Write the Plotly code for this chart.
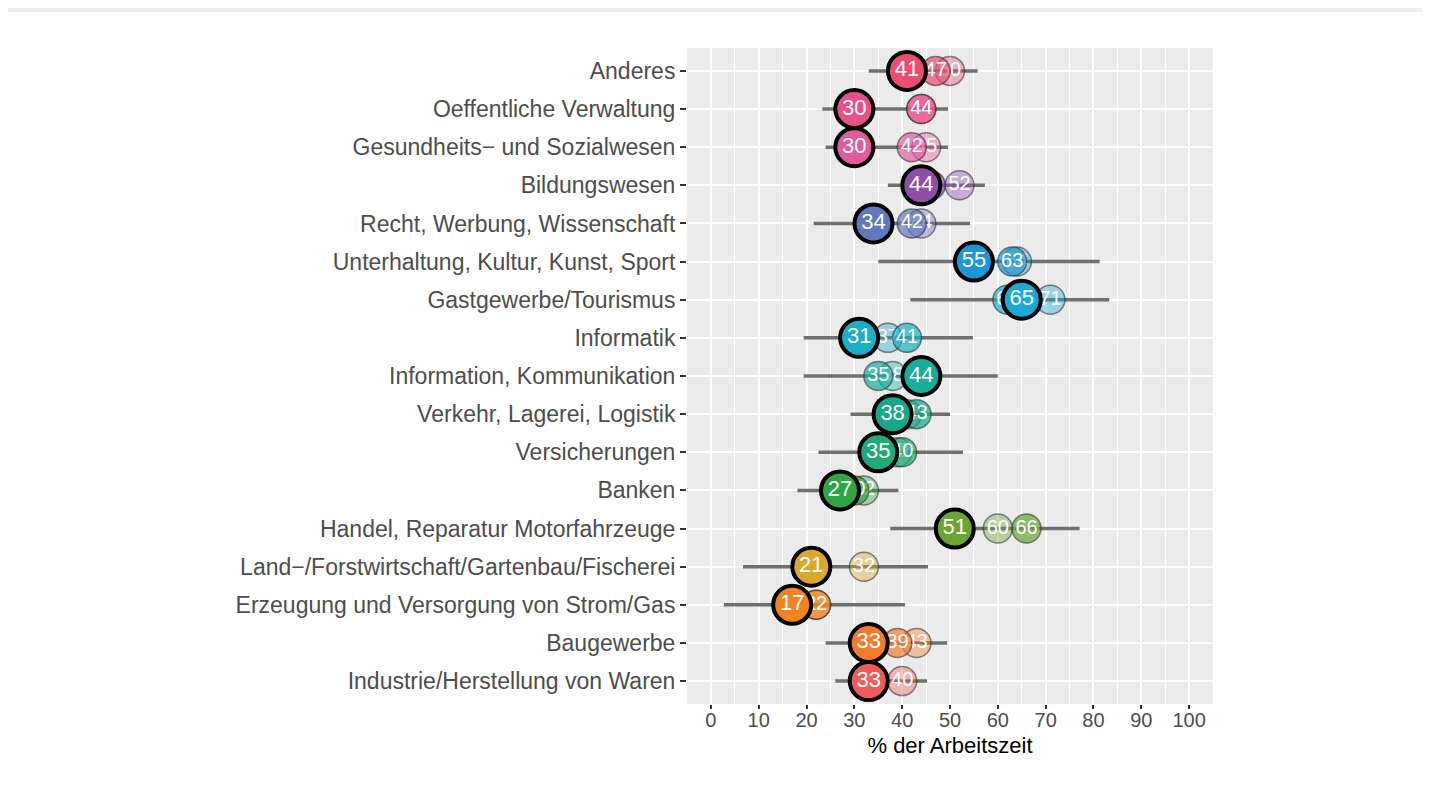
import plotly.graph_objects as go

categories = [
    "Anderes",
    "Oeffentliche Verwaltung",
    "Gesundheits− und Sozialwesen",
    "Bildungswesen",
    "Recht, Werbung, Wissenschaft",
    "Unterhaltung, Kultur, Kunst, Sport",
    "Gastgewerbe/Tourismus",
    "Informatik",
    "Information, Kommunikation",
    "Verkehr, Lagerei, Logistik",
    "Versicherungen",
    "Banken",
    "Handel, Reparatur Motorfahrzeuge",
    "Land−/Forstwirtschaft/Gartenbau/Fischerei",
    "Erzeugung und Versorgung von Strom/Gas",
    "Baugewerbe",
    "Industrie/Herstellung von Waren",
]
main_vals = [41, 30, 30, 44, 34, 55, 65, 31, 44, 38, 35, 27, 51, 21, 17, 33, 33]
med_vals = [47, 44, 42, 46, 42, 63, 62, 41, 35, 43, 40, 30, 66, 22, 22, 39, 34]
light_vals = [50, 44, 45, 52, 44, 64, 71, 37, 38, 41, 39, 32, 60, 32, 22, 43, 40]
range_lo = [33, 23.3, 24, 37, 21.5, 35, 41.7, 19.4, 19.4, 29.2, 22.5, 18.1, 37.5, 6.7, 2.7, 24, 26]
range_hi = [55.8, 49.6, 49.6, 57.3, 54.2, 81.3, 83.3, 54.8, 60, 50, 52.7, 39.2, 77.1, 45.4, 40.6, 49.4, 45.2]
colors = [
    "#EB4E72", "#E94F8A", "#E35B9C", "#8E4FA8", "#6476BE", "#1C97D5",
    "#1BA9D6", "#1AAFC6", "#17AE9E", "#16A888", "#1FAA78", "#2EA545",
    "#6BA534", "#D9A82E", "#F2831F", "#F47A2E", "#EF5C5C",
]
x_ticks = list(range(0, 101, 10))
x_title = "% der Arbeitszeit"


def rgba(hex_color, a):
    h = hex_color.lstrip("#")
    r, g, b = int(h[0:2], 16), int(h[2:4], 16), int(h[4:6], 16)
    return f"rgba({r},{g},{b},{a})"


fig = go.Figure()

# range lines
lx, ly = [], []
for c, lo, hi in zip(categories, range_lo, range_hi):
    lx += [lo, hi, None]
    ly += [c, c, None]
fig.add_trace(go.Scatter(x=lx, y=ly, mode="lines",
                         line=dict(color="rgba(95,97,97,0.9)", width=3.5),
                         hoverinfo="skip"))

for vals, alpha in ((light_vals, 0.4), (med_vals, 0.7)):
    fig.add_trace(go.Scatter(
        x=vals, y=categories, mode="markers+text",
        text=[str(v) for v in vals], textposition="middle center",
        textfont=dict(color="white", size=20, family="Liberation Sans, Arial"),
        marker=dict(size=29, color=[rgba(c, alpha) for c in colors],
                    line=dict(color="rgba(40,40,40,0.55)", width=1.5)),
        cliponaxis=False, hoverinfo="skip"))

fig.add_trace(go.Scatter(
    x=main_vals, y=categories, mode="markers+text",
    text=[str(v) for v in main_vals], textposition="middle center",
    textfont=dict(color="white", size=22, family="Liberation Sans, Arial"),
    marker=dict(size=38, color=colors, line=dict(color="black", width=4)),
    cliponaxis=False, hoverinfo="skip"))

# the page body adds an 8px offset, so the figure is 8px smaller
W, H = 1422, 791
ml, mt = 679, 40
pw, ph = 526, 656
mr, mb = W - ml - pw, H - mt - ph


def px_x(p):
    return (p - ml) / pw


def px_y(p):
    return (H - mb - p) / ph


shapes = [
    dict(type="rect", xref="paper", yref="paper", x0=px_x(0), x1=px_x(W),
         y0=px_y(4), y1=px_y(0), fillcolor="#EFEFEF", line=dict(width=0), layer="below"),
]

fig.update_layout(
    width=W, height=H, autosize=False,
    margin=dict(l=ml, r=mr, t=mt, b=mb, pad=0),
    plot_bgcolor="#EBEBEB", paper_bgcolor="white",
    showlegend=False, hovermode=False,
    font=dict(family="Liberation Sans, Arial", color="#4D4D4D"),
    shapes=shapes,
    xaxis=dict(
        range=[-5, 105], tickmode="array", tickvals=x_ticks,
        ticktext=[str(t) for t in x_ticks],
        tickfont=dict(size=20, color="#4D4D4D"),
        ticks="outside", ticklen=4, tickcolor="#333333", tickwidth=1.5,
        ticklabelstandoff=-6,
        showgrid=True, gridcolor="white", gridwidth=2,
        minor=dict(dtick=5, tick0=0, showgrid=True, gridcolor="white", gridwidth=1),
        zeroline=False, showline=False,
        title=dict(text=x_title, font=dict(size=22, color="black"), standoff=7),
    ),
    yaxis=dict(
        type="category", categoryorder="array",
        categoryarray=list(reversed(categories)),
        range=[-0.6, len(categories) - 0.4],
        tickfont=dict(size=23, color="#4D4D4D"),
        ticks="outside", ticklen=6, tickcolor="#333333", tickwidth=1.5,
        showgrid=True, gridcolor="white", gridwidth=2,
        zeroline=False, showline=False,
    ),
)

fig.write_html("out.html")
